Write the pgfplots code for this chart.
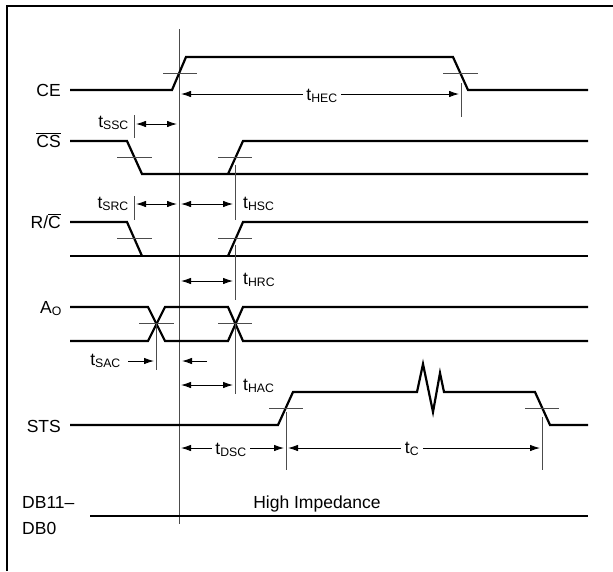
\documentclass[border=0pt]{standalone}
\usepackage{pgfplots}
\pgfplotsset{compat=1.18}
\usepackage{fontspec}
\setmainfont{Liberation Sans}
\usetikzlibrary{arrows.meta}
\newcommand{\sub}[1]{\textsubscript{#1}}
\tikzset{lab/.style={inner sep=0pt}}
\begin{document}%
\begin{tikzpicture}[font=\fontsize{17.5}{20}\selectfont]
\begin{axis}[width=613pt,height=571pt,scale only axis,
  xmin=0,xmax=613,ymin=0,ymax=571,y dir=reverse,hide axis,clip=false,
  sig/.style={black,line width=2.2pt,line join=miter,no markers},
  frm/.style={black,line width=2.2pt,no markers},
  thin/.style={black!70,line width=0.9pt,no markers},
  arr/.style={black,line width=0.9pt,no markers,{Latex[length=10pt,width=6.5pt]}-{Latex[length=10pt,width=6.5pt]}},
  rarr/.style={black,line width=0.9pt,no markers,-{Latex[length=10pt,width=6.5pt]}},
]
% frame
\addplot[frm] coordinates {(7,571) (7,6) (613,6)};
% main reference line
\addplot[thin] coordinates {(179,29) (179,524)};
% CE
\addplot[sig] coordinates {(70,90) (172,90) (186,57) (453,57) (468,90) (588,90)};
\addplot[thin] coordinates {(163,73) (197,73)};
\addplot[thin] coordinates {(443,73) (478,73)};
\addplot[thin] coordinates {(461,83) (461,117)};
\addplot[arr] coordinates {(181,94) (459,94)};
\node[lab,fill=white,inner xsep=3pt,inner ysep=1pt,anchor=base] at (axis cs:322,100) {t\sub{HEC}};
% CS
\addplot[sig] coordinates {(70,141) (127,141) (142,174) (588,174)};
\addplot[sig] coordinates {(228,174) (243,141) (588,141)};
\addplot[thin] coordinates {(117,157) (152,157)};
\addplot[thin] coordinates {(218,157) (252,157)};
\addplot[thin] coordinates {(134,115) (134,138)};
\addplot[thin] coordinates {(235,165) (235,220)};
\addplot[arr] coordinates {(136,124) (177,124)};
\node[lab,anchor=base east] at (axis cs:129,127) {t\sub{SSC}};
% R/C
\addplot[sig] coordinates {(70,222) (127,222) (142,256)};
\addplot[sig] coordinates {(70,256) (588,256)};
\addplot[sig] coordinates {(228,256) (243,222) (588,222)};
\addplot[thin] coordinates {(117,238) (152,238)};
\addplot[thin] coordinates {(218,238) (252,238)};
\addplot[thin] coordinates {(134,196) (134,220)};
\addplot[thin] coordinates {(235,245) (235,300)};
\addplot[arr] coordinates {(136,204) (177,204)};
\addplot[arr] coordinates {(181,204) (233,204)};
\addplot[arr] coordinates {(181,281) (233,281)};
\node[lab,anchor=base east] at (axis cs:129,208) {t\sub{SRC}};
\node[lab,anchor=base west] at (axis cs:243,208) {t\sub{HSC}};
\node[lab,anchor=base west] at (axis cs:243,284) {t\sub{HRC}};
% A0
\addplot[sig] coordinates {(70,307) (148,307) (165,341) (228,341) (243,307) (588,307)};
\addplot[sig] coordinates {(70,341) (148,341) (165,307) (228,307) (243,341) (588,341)};
\addplot[thin] coordinates {(139,323) (174,323)};
\addplot[thin] coordinates {(218,323) (252,323)};
\addplot[thin] coordinates {(156,323) (156,370)};
\addplot[thin] coordinates {(235,323) (235,394)};
\addplot[rarr] coordinates {(128,361) (154,361)};
\addplot[rarr] coordinates {(207,361) (182,361)};
\addplot[arr] coordinates {(181,385) (233,385)};
\node[lab,anchor=base east] at (axis cs:121,365) {t\sub{SAC}};
\node[lab,anchor=base west] at (axis cs:243,390) {t\sub{HAC}};
% STS
\addplot[sig] coordinates {(70,425) (278,425) (293,392) (417,392) (423,364) (433,412) (440,373) (444,392) (535,392) (550,425) (588,425)};
\addplot[thin] coordinates {(269,408) (303,408)};
\addplot[thin] coordinates {(525,408) (559,408)};
\addplot[thin] coordinates {(286,412) (286,470)};
\addplot[thin] coordinates {(542,417) (542,470)};
\addplot[arr] coordinates {(181,448) (284,448)};
\addplot[arr] coordinates {(288,448) (540,448)};
\node[lab,fill=white,inner xsep=3pt,inner ysep=1pt,anchor=base] at (axis cs:231,454) {t\sub{DSC}};
\node[lab,fill=white,inner xsep=4pt,inner ysep=1pt,anchor=base] at (axis cs:412,453) {t\sub{C}};
% DB
\addplot[sig] coordinates {(90,516) (588,516)};
\node[lab,anchor=base] at (axis cs:317,508) {High Impedance};
% signal labels
\node[lab,anchor=base east] at (axis cs:61,96) {CE};
\node[lab,anchor=base east] at (axis cs:61,147) {$\overline{\mbox{CS}}$};
\node[lab,anchor=base east] at (axis cs:61,228) {R/$\overline{\mbox{C}}$};
\node[lab,anchor=base east] at (axis cs:62,313) {A\sub{O}};
\node[lab,anchor=base east] at (axis cs:61,432) {STS};
\node[lab,anchor=base west] at (axis cs:22,508) {DB11--};
\node[lab,anchor=base west] at (axis cs:22,534) {DB0};
\end{axis}
\pgfresetboundingbox
\path (current axis.south west) rectangle (current axis.north east);
\end{tikzpicture}%
\end{document}
